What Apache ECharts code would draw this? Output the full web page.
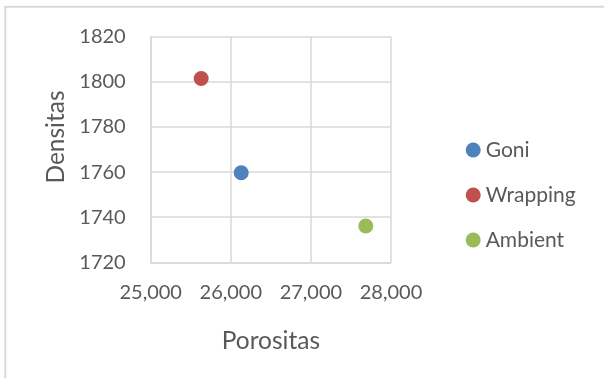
<!DOCTYPE html>
<html>
<head>
<meta charset="utf-8">
<script src="https://cdn.jsdelivr.net/npm/echarts@6/dist/echarts.min.js"></script>
<style>
  html, body { margin: 0; padding: 0; background: #fff; }
  #chart { width: 604px; height: 378px; }
</style>
</head>
<body>
<div id="chart"></div>
<script>
// Sample groups and their measured values
const seriesNames = ['Goni', 'Wrapping', 'Ambient'];
const porositas = [26130, 25630, 27685];
const densitas = [1759.7, 1801.5, 1736.1];
const seriesColors = ['#4F81BD', '#C0504D', '#9BBB59'];

// Axis ranges
const xMin = 25000, xMax = 28000, xStep = 1000;
const yMin = 1720, yMax = 1820, yStep = 20;

const FONT = 'Lato';
const TEXT = '#595959';
const GRIDC = '#d9d9d9';
const TITLE_SIZE = 24.5;

const chart = echarts.init(document.getElementById('chart'), null, { renderer: 'canvas' });

const series = seriesNames.map((name, i) => ({
  name: name,
  type: 'scatter',
  symbol: 'circle',
  symbolSize: 15,
  itemStyle: { color: seriesColors[i], opacity: 1 },
  data: [[porositas[i], densitas[i]]]
}));

chart.setOption({
  animation: false,
  backgroundColor: '#fff',
  textStyle: { fontFamily: FONT },
  grid: { left: 150.7, right: 213, top: 36.7, bottom: 115.7, containLabel: false },
  xAxis: {
    type: 'value',
    min: xMin, max: xMax, interval: xStep,
    name: 'Porositas',
    nameLocation: 'middle',
    nameGap: 66,
    nameTextStyle: { color: TEXT, fontSize: TITLE_SIZE, fontFamily: FONT },
    axisLine: { show: true, lineStyle: { color: GRIDC, width: 1.5 } },
    axisTick: { show: false },
    splitLine: { show: true, lineStyle: { color: GRIDC, width: 1.5 } },
    axisLabel: {
      color: TEXT, fontSize: 20, fontFamily: FONT, margin: 20,
      formatter: v => v.toLocaleString('en-US')
    }
  },
  yAxis: {
    type: 'value',
    min: yMin, max: yMax, interval: yStep,
    axisLine: { show: true, lineStyle: { color: GRIDC, width: 1.5 } },
    axisTick: { show: false },
    splitLine: { show: true, lineStyle: { color: GRIDC, width: 1.5 } },
    axisLabel: {
      color: TEXT, fontSize: 20, fontFamily: FONT, margin: 25,
      formatter: v => String(v)
    }
  },
  legend: {
    orient: 'vertical',
    left: 460.7,
    top: 134.5,
    padding: 5,
    icon: 'circle',
    itemWidth: 15,
    itemHeight: 15,
    itemGap: 24,
    textStyle: { color: TEXT, fontSize: 21, fontFamily: FONT, lineHeight: 20 },
    data: seriesNames
  },
  graphic: [
    {
      type: 'rect',
      silent: true,
      shape: { x: 5.3, y: 6.8, width: 700, height: 500 },
      style: { fill: 'none', stroke: GRIDC, lineWidth: 2 }
    },
    {
      type: 'text',
      silent: true,
      x: 56,
      y: 137,
      rotation: Math.PI / 2,
      style: {
        text: 'Densitas',
        fill: TEXT,
        font: TITLE_SIZE + 'px ' + FONT,
        textAlign: 'center',
        textVerticalAlign: 'middle'
      }
    }
  ],
  series: series
});
</script>
</body>
</html>
